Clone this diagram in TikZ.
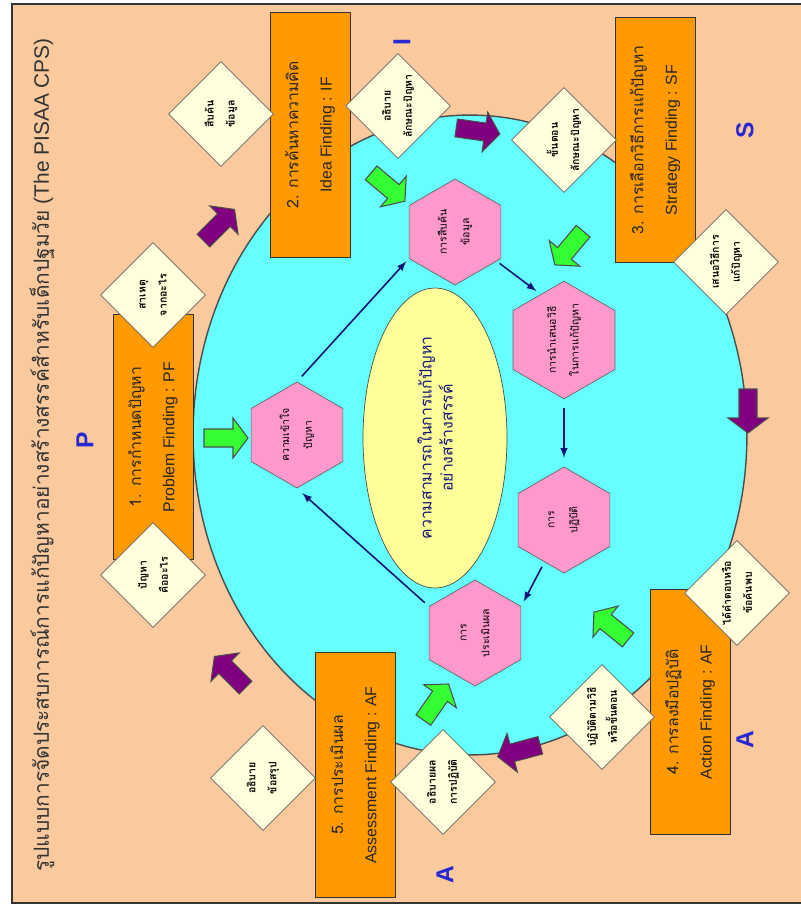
\documentclass[tikz,border=0pt]{standalone}
\usepackage{fontspec}
\setmainfont{Liberation Sans}
\newfontfamily\thaifont[Script=Thai]{Loma}
\usetikzlibrary{shapes.geometric}

\definecolor{peach}{RGB}{250,202,158}
\definecolor{poolcyan}{RGB}{102,255,255}
\definecolor{stageorange}{RGB}{255,153,0}
\definecolor{steppink}{RGB}{255,153,204}
\definecolor{coreyellow}{RGB}{255,255,153}
\definecolor{askcream}{RGB}{255,255,220}
\definecolor{leafgreen}{RGB}{51,255,51}
\definecolor{plum}{RGB}{128,0,128}
\definecolor{letterblue}{RGB}{40,40,210}
\definecolor{inknavy}{RGB}{20,20,120}

\tikzset{
  stagebox/.style={draw=black!80, fill=stageorange, rotate=90, minimum width=4.9cm, minimum height=1.6cm,
    align=center, inner sep=2pt, text=black!85, font=\fontsize{9}{19}\selectfont},
  askdiamond/.style={diamond, draw=black!60, fill=askcream, rotate=90, minimum width=2.1cm, minimum height=2.1cm,
    inner sep=0pt, align=center, font=\thaifont\bfseries\fontsize{6}{12}\selectfont},
  stephex/.style={regular polygon, regular polygon sides=6, draw=black!60, fill=steppink, rotate=90,
    minimum size=2.12cm, inner sep=0pt, align=center, font=\thaifont\fontsize{6}{13}\selectfont},
  phase/.style={rotate=90, text=letterblue, font=\bfseries\fontsize{14}{14}\selectfont},
  flow/.style={-latex, draw=inknavy, line width=0.9pt}
}

% fat block arrow: x, y, angle, colour
\newcommand{\fatarrow}[4]{
  \begin{scope}[shift={(#1,#2)}, rotate=#3]
    \draw[fill=#4, draw=black!70, line width=0.6pt]
      (-22,-9) -- (7,-9) -- (7,-20) -- (22,0) -- (7,20) -- (7,9) -- (-22,9) -- cycle;
  \end{scope}
}

\begin{document}
\begin{tikzpicture}[x=0.02cm,y=-0.02cm]
\useasboundingbox (0,0) rectangle (801,910);
\fill[peach] (12,4) rectangle (801,903);
\draw[line width=1pt, black!80] (801,4) -- (12,4) -- (12,903) -- (801,903);

% pool
\draw[fill=poolcyan, draw=black!70, line width=0.8pt] (470,435) ellipse [x radius=5.54cm, y radius=6.4cm];

% title
\node[rotate=90, text=black!80, font=\fontsize{11.9}{12}\selectfont] (title) at (42,455)
  {{\thaifont รูปแบบการจัดประสบการณ์การแก้ปัญหาอย่างสร้างสรรค์สำหรับเด็กปฐมวัย} (The PISAA CPS)};

% phase letters
\node[phase] (p) at (85,440) {P};
\node[phase] (i) at (402,42) {I};
\node[phase] (s) at (745,130) {S};
\node[phase] (a1) at (745,740) {A};
\node[phase] (a2) at (445,875) {A};

% stages
\node[stagebox] (pf) at (153,437) {{\thaifont\fontsize{9}{19}\selectfont 1. การกำหนดปัญหา}\\Problem  Finding : PF};
\node[stagebox] (if) at (310,135) {{\thaifont\fontsize{9}{19}\selectfont 2. การค้นหาความคิด}\\Idea  Finding : IF};
\node[stagebox] (sf) at (655,140) {{\thaifont\fontsize{9}{19}\selectfont 3. การเลือกวิธีการแก้ปัญหา}\\Strategy  Finding : SF};
\node[stagebox] (af) at (690,712) {{\thaifont\fontsize{9}{19}\selectfont 4. การลงมือปฏิบัติ}\\Action  Finding : AF};
\node[stagebox] (asf) at (355,775) {{\thaifont\fontsize{9}{19}\selectfont 5. การประเมินผล}\\Assessment  Finding : AF};

% questions
\node[askdiamond] (what) at (153,575) {ปัญหา\\คืออะไร};
\node[askdiamond] (cause) at (153,295) {สาเหตุ\\จากอะไร};
\node[askdiamond] (seek) at (221,114) {สืบค้น\\ข้อมูล};
\node[askdiamond] (explain) at (398,106) {อธิบาย\\ลักษณะปัญหา};
\node[askdiamond] (order) at (564,140) {ขั้นตอน\\ลักษณะปัญหา};
\node[askdiamond] (propose) at (726,262) {เสนอวิธีการ\\แก้ปัญหา};
\node[askdiamond] (found) at (737,593) {ได้คำตอบหรือ\\ข้อค้นพบ};
\node[askdiamond] (follow) at (602,717) {ปฏิบัติตามวิธี\\หรือขั้นตอน};
\node[askdiamond] (result) at (443,782) {อธิบายผล\\การปฏิบัติ};
\node[askdiamond] (sum) at (263,778) {อธิบาย\\ข้อสรุป};

% core
\node[ellipse, draw=black!70, fill=coreyellow, rotate=90, minimum width=6cm, minimum height=2.88cm,
  inner sep=0pt, align=center, text=inknavy, font=\thaifont\fontsize{9}{12}\selectfont] (core) at (435,438)
  {ความสามารถในการแก้ปัญหา\\อย่างสร้างสรรค์};

% steps
\node[stephex] (understand) at (297,435) {ความเข้าใจ\\ปัญหา};
\node[stephex] (search) at (455,232) {การสืบค้น\\ข้อมูล};
\node[stephex] (plan) at (564,340) {การนำเสนอวิธี\\ในการแก้ปัญหา};
\node[stephex] (act) at (564,520) {การ\\ปฏิบัติ};
\node[stephex] (judge) at (475,633) {การ\\ประเมินผล};

\draw[flow, shorten <=4pt, shorten >=2pt] (understand.0) -- (search.120);
\draw[flow, shorten <=2pt, shorten >=3pt] (search.235) -- (plan.27);
\draw[flow, shorten <=5pt, shorten >=5pt] (plan.180) -- (act.0);
\draw[flow, shorten <=3pt, shorten >=3pt] (act.155) -- (judge.300);
\draw[flow, shorten <=3pt, shorten >=4pt] (judge.60) -- (understand.180);

% green arrows into the pool
\foreach \px/\py/\ang in {226/438/0, 388/187/-40, 569/248/-130, 611/626/141, 436/702/55}
  \fatarrow{\px}{\py}{\ang}{leafgreen};

% purple arrows round the pool
\foreach \px/\py/\ang in {219/225/45, 478/131/-8, 748/411/-90, 519/751/195, 230/672/135}
  \fatarrow{\px}{\py}{\ang}{plum};
\end{tikzpicture}
\end{document}
